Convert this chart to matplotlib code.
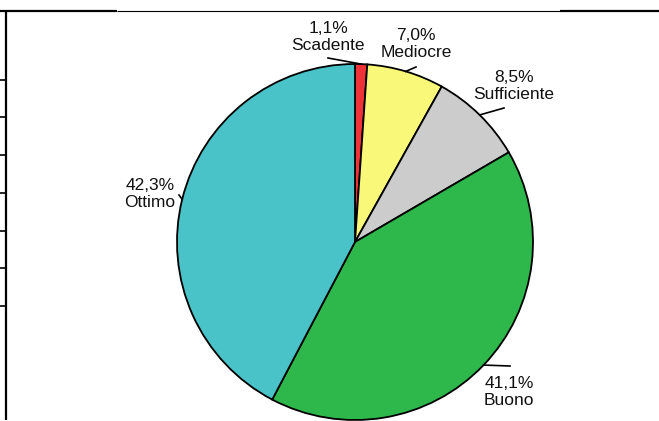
import numpy as np
import matplotlib
matplotlib.use("Agg")
import matplotlib.pyplot as plt
from matplotlib.lines import Line2D

plt.rcParams['font.family'] = ['Liberation Sans', 'DejaVu Sans']

# data
categories = ["Scadente", "Mediocre", "Sufficiente", "Buono", "Ottimo"]
values = [1.1, 7.0, 8.5, 41.1, 42.3]
pct_labels = ["1,1%", "7,0%", "8,5%", "41,1%", "42,3%"]

colors = ["#EE3338", "#FAF878", "#CCCCCC", "#2EB84B", "#4AC3C8"]

# layout (pixel space, y down)
W, H = 659, 421
cx, cy, r = 355, 242, 178
text_pos = [(328, 37), (416, 44), (514, 86), (509, 392), (150, 194)]
leader_end = [(328, 58), (416, 67), (504, 108), (510, 366), (179, 195)]

fig = plt.figure(figsize=(W / 100, H / 100), dpi=100)
ax = fig.add_axes([0, 0, 1, 1])
ax.set_xlim(0, W)
ax.set_ylim(0, H)
ax.axis('off')

wedges, _ = ax.pie(values, colors=colors, startangle=90, counterclock=False,
                   center=(cx, H - cy), radius=r,
                   wedgeprops=dict(edgecolor='black', linewidth=1.3))
ax.set_xlim(0, W)
ax.set_ylim(0, H)
ax.set_aspect('equal')

for w, lab, cat, tp, le in zip(wedges, pct_labels, categories, text_pos, leader_end):
    ang = np.deg2rad((w.theta1 + w.theta2) / 2)
    ex = cx + r * np.cos(ang)
    ey = (H - cy) + r * np.sin(ang)
    ax.plot([ex, le[0]], [ey, H - le[1]], color='black', lw=1.2)
    ax.text(tp[0], H - tp[1], f"{lab}\n{cat}", ha='center', va='center',
            fontsize=12.5, color='#111111', linespacing=1.15)

# frame remnants
def hline(x0, x1, y, lw):
    fig.add_artist(Line2D([x0 / W, x1 / W], [1 - y / H, 1 - y / H],
                          transform=fig.transFigure, color='black', lw=lw,
                          solid_capstyle='butt'))

def vline(x, y0, y1, lw):
    fig.add_artist(Line2D([x / W, x / W], [1 - y0 / H, 1 - y1 / H],
                          transform=fig.transFigure, color='black', lw=lw,
                          solid_capstyle='butt'))

hline(0, 117, 11, 1.6)
hline(117, 560, 11, 0.8)
hline(560, W, 11, 1.6)
vline(6, 10, 420, 1.6)
for ty in [80, 117, 155, 193, 231, 268, 306]:
    hline(0, 6, ty, 1.2)

fig.savefig("out.png", dpi=100)
